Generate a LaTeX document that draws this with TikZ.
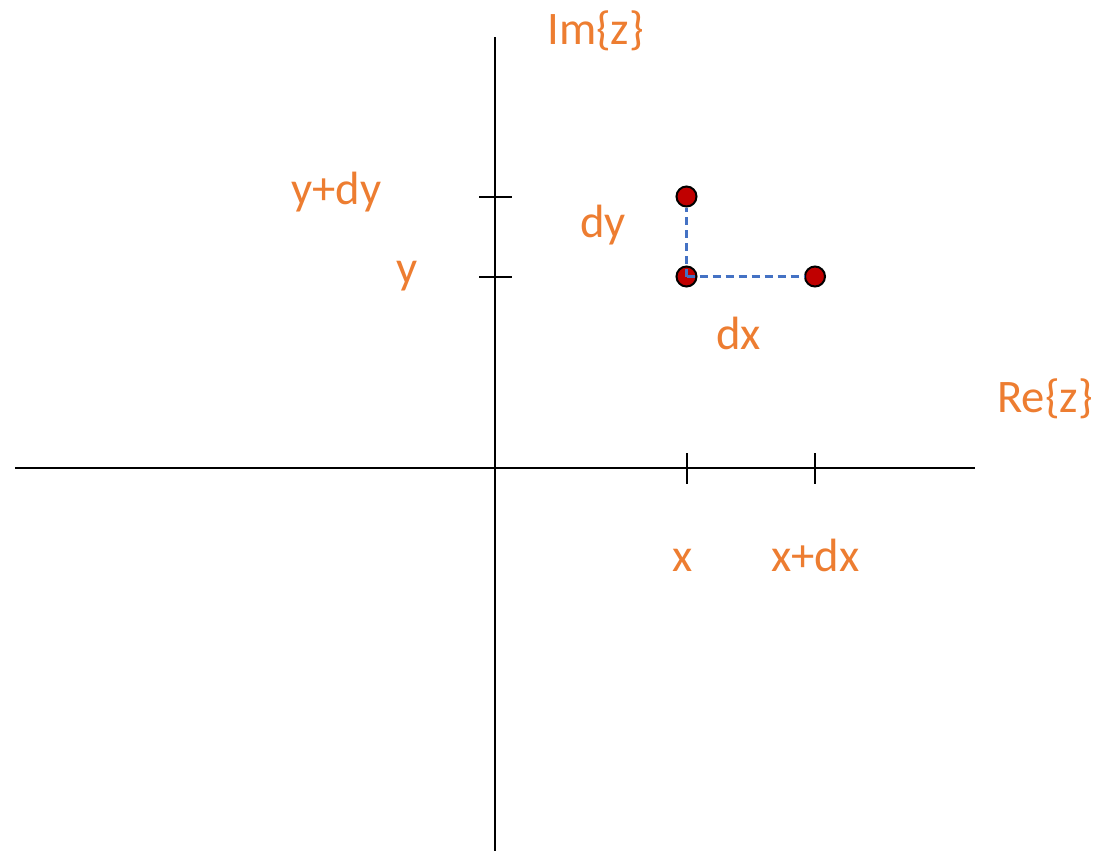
\documentclass[tikz,border=0pt]{standalone}
\usepackage{fontspec}
\setmainfont{Carlito}
\definecolor{lblorange}{HTML}{ED7D31}
\definecolor{dashblue}{HTML}{4472C4}
\definecolor{ptred}{HTML}{C00000}
\begin{document}
\begin{tikzpicture}[x=0.75pt,y=-0.75pt,
  axis/.style={line width=2.2pt,black},
  tick/.style={line width=2pt,black},
  lbl/.style={text=lblorange,font=\fontsize{35}{42}\selectfont,inner sep=0pt,anchor=base west},
  pt/.style={circle,draw=black,fill=ptred,line width=1.5pt,minimum size=15pt,inner sep=0pt},
  dashln/.style={dashblue,line width=1.7pt,dash pattern=on 6pt off 3.75pt}]
\useasboundingbox (0,0) rectangle (1101,851);
% axes
\coordinate (xl) at (15,468);
\coordinate (xr) at (975,468);
\coordinate (yt) at (495,37);
\coordinate (yb) at (495,851);
\draw[axis] (xl) -- (xr);
\draw[axis] (yt) -- (yb);
% ticks on imaginary axis
\coordinate (ty1a) at (479,197); \coordinate (ty1b) at (512,197);
\coordinate (ty2a) at (479,277); \coordinate (ty2b) at (512,277);
\draw[tick] (ty1a) -- (ty1b);
\draw[tick] (ty2a) -- (ty2b);
% ticks on real axis
\coordinate (tx1a) at (687,453); \coordinate (tx1b) at (687,484);
\coordinate (tx2a) at (815,453); \coordinate (tx2b) at (815,484);
\draw[tick] (tx1a) -- (tx1b);
\draw[tick] (tx2a) -- (tx2b);
% points
\node[pt] (ptop) at (686.5,196.5) {};
\node[pt] (pmid) at (686.5,276.5) {};
\node[pt] (pright) at (815,276.5) {};
\draw[dashln] (pmid.center) -- (ptop);
\draw[dashln] (pmid.center) -- (pright);
% labels
\node[lbl] (lim) at (547,44) {Im\{z\}};
\node[lbl] (lre) at (997,412.5) {Re\{z\}};
\node[lbl] (lydy) at (291,204) {y+dy};
\node[lbl] (ly) at (396,283) {y};
\node[lbl] (ldy) at (580,237) {dy};
\node[lbl] (ldx) at (716,349) {dx};
\node[lbl] (lx) at (672,571.5) {x};
\node[lbl] (lxdx) at (771,571.5) {x+dx};
\end{tikzpicture}
\end{document}
